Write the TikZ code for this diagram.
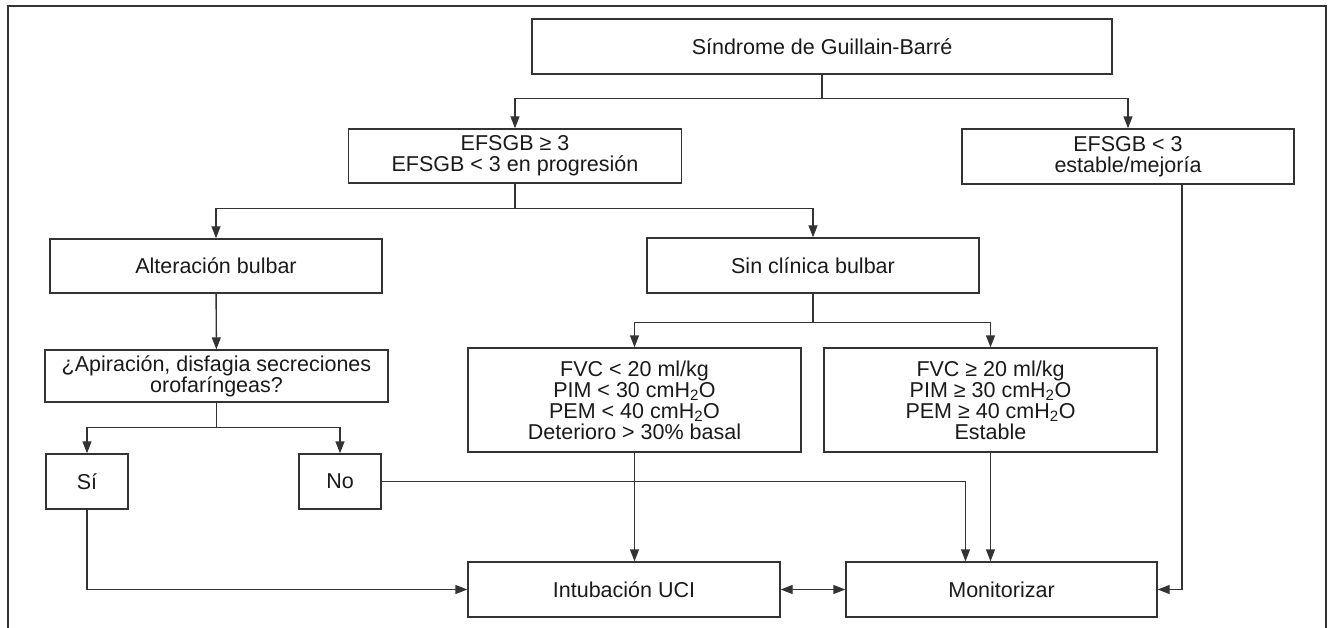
\documentclass[tikz,border=0pt]{standalone}
\usepackage{fontspec}
\setmainfont{Liberation Sans}
\usetikzlibrary{positioning,calc,arrows.meta}
\definecolor{linegray}{HTML}{333333}
\definecolor{textgray}{HTML}{1A1A1A}

\begin{document}
\begin{tikzpicture}[x=1pt, y=-1pt, line width=1.4pt, color=linegray,
    box/.style={draw=linegray, rectangle, inner sep=0pt, align=center, text=textgray,
                font=\fontsize{21.5}{21}\selectfont},
    arr/.style={-{Triangle[length=12pt,width=9pt]}},
    twoarr/.style={{Triangle[length=12pt,width=9pt]}-{Triangle[length=12pt,width=9pt]}}]
    \useasboundingbox (0,0) rectangle (1332,628);

    % Frame
    \draw (8,628) -- (8,6) -- (1326,6) -- (1326,628);

    % Boxes
    \node [box, minimum width=580pt, minimum height=55pt] (sgb) at (822,46.5) {Síndrome de Guillain-Barré};
    \node [box, minimum width=333pt, minimum height=54pt] (efsA) at (515,156) {EFSGB ≥ 3\\EFSGB < 3 en progresión};
    \node [box, minimum width=332pt, minimum height=55pt] (efsB) at (1128,156.5) {EFSGB < 3\\estable/mejoría};
    \node [box, minimum width=332pt, minimum height=54pt] (bulbar) at (216,266) {Alteración bulbar};
    \node [box, minimum width=332pt, minimum height=55pt] (clinica) at (813,265.5) {Sin clínica bulbar};
    \node [box, minimum width=343pt, minimum height=52pt] (aspir) at (216.5,376) {¿Apiración, disfagia secreciones\\orofaríngeas?};
    \node [box, minimum width=333pt, minimum height=104pt] (fvcbajo) at (634.5,400)
        {FVC < 20 ml/kg\\PIM < 30 cmH\textsubscript{2}O\\PEM < 40 cmH\textsubscript{2}O\\Deterioro > 30\% basal};
    \node [box, minimum width=333pt, minimum height=104pt] (fvcalto) at (990.5,400)
        {FVC ≥ 20 ml/kg\\PIM ≥ 30 cmH\textsubscript{2}O\\PEM ≥ 40 cmH\textsubscript{2}O\\Estable};
    \node [box, minimum width=82pt, minimum height=55pt] (si) at (87,481.5) {Sí};
    \node [box, minimum width=82pt, minimum height=55pt] (no) at (340,481.5) {No};
    \node [box, minimum width=312pt, minimum height=55pt] (uci) at (624,589.5) {Intubación UCI};
    \node [box, minimum width=311pt, minimum height=55pt] (monit) at (1001.5,589.5) {Monitorizar};

    % Splits
    \coordinate (split1) at ($(sgb.south)+(0,24)$);
    \draw (sgb.south) -- (split1);
    \draw [arr] (split1) -| (efsA.north);
    \draw [arr] (split1) -| (efsB.north);

    \coordinate (split2) at ($(efsA.south)+(0,25)$);
    \draw (efsA.south) -- (split2);
    \draw [arr] (split2) -| (bulbar.north);
    \draw [arr] (split2) -| (clinica.north);

    \draw [arr] (bulbar) -- (aspir);

    \coordinate (split3) at ($(clinica.south)+(0,29)$);
    \draw (clinica.south) -- (split3);
    \draw [arr] (split3) -| (fvcbajo.north);
    \draw [arr] (split3) -| (fvcalto.north);

    \coordinate (split4) at ($(aspir.south)+(0,25)$);
    \draw (aspir.south) -- (split4);
    \draw [arr] (split4) -| (si.north);
    \draw [arr] (split4) -| (no.north);

    % Outcomes
    \draw [arr] (si.south) |- (uci.west);
    \draw [arr] (no.east) -| ([xshift=-36pt]monit.north);
    \draw [arr] (fvcbajo.south) -- (fvcbajo.south |- uci.north);
    \draw [arr] (fvcalto.south) -- (fvcalto.south |- monit.north);
    \draw [twoarr] (uci.east) -- (monit.west);
    \draw [arr] ([xshift=54pt]efsB.south) |- (monit.east);

\end{tikzpicture}
\end{document}
